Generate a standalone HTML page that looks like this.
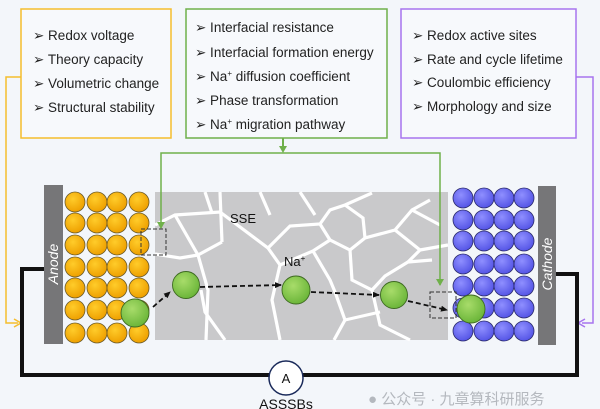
<!DOCTYPE html>
<html><head><meta charset="utf-8"><style>
html,body{margin:0;padding:0;background:#f3f6fa;}
svg{display:block;font-family:"Liberation Sans",sans-serif;}
</style></head><body>
<svg width="600" height="409" viewBox="0 0 600 409" xmlns="http://www.w3.org/2000/svg">
<defs>
<radialGradient id="gold" cx="40%" cy="35%" r="65%"><stop offset="0" stop-color="#ffcc2a"/><stop offset="1" stop-color="#eea000"/></radialGradient>
<radialGradient id="blue" cx="40%" cy="35%" r="65%"><stop offset="0" stop-color="#8f8fff"/><stop offset="1" stop-color="#5555e6"/></radialGradient>
<radialGradient id="grn" cx="40%" cy="35%" r="65%"><stop offset="0" stop-color="#a8dc6a"/><stop offset="1" stop-color="#6cb63a"/></radialGradient>
<marker id="ab" markerWidth="8" markerHeight="8" refX="6" refY="4" orient="auto" markerUnits="userSpaceOnUse"><path d="M0,1 L7,4 L0,7 Z" fill="#111"/></marker>
</defs>
<rect width="600" height="409" fill="#f3f6fa"/>
<rect x="21" y="9" width="150" height="129" fill="#f7f9fc" stroke="#f5bd2d" stroke-width="1.5"/>
<rect x="186" y="9" width="201" height="129" fill="#f7f9fc" stroke="#6fb04a" stroke-width="1.5"/>
<rect x="401" y="9" width="175" height="129" fill="#f7f9fc" stroke="#a774ee" stroke-width="1.5"/>
<g font-size="13.5" fill="#222">
<text x="33" y="40">➢  Redox voltage</text>
<text x="33" y="64">➢  Theory capacity</text>
<text x="33" y="88">➢  Volumetric change</text>
<text x="33" y="112">➢  Structural stability</text>
<text x="195" y="32">➢  Interfacial resistance</text>
<text x="195" y="57">➢  Interfacial formation energy</text>
<text x="195" y="81">➢  Na<tspan font-size="8" dy="-5">+</tspan><tspan dy="5"> diffusion coefficient</tspan></text>
<text x="195" y="105">➢  Phase transformation</text>
<text x="195" y="129">➢  Na<tspan font-size="8" dy="-5">+</tspan><tspan dy="5"> migration pathway</tspan></text>
<text x="412" y="40">➢  Redox active sites</text>
<text x="412" y="64">➢  Rate and cycle lifetime</text>
<text x="412" y="87">➢  Coulombic efficiency</text>
<text x="412" y="111">➢  Morphology and size</text>
</g>
<polyline points="21,77 6,77 6,323 18,323" fill="none" stroke="#f5bd2d" stroke-width="1.5"/>
<path d="M14,319 L21,323 L14,327" fill="none" stroke="#f5bd2d" stroke-width="1.5"/>
<polyline points="576,77 593,77 593,323 582,323" fill="none" stroke="#a774ee" stroke-width="1.5"/>
<path d="M585,319 L578,323 L585,327" fill="none" stroke="#a774ee" stroke-width="1.5"/>
<polyline points="44,269 22,269 22,375 270,375" fill="none" stroke="#111" stroke-width="4"/>
<polyline points="302,375 577,375 577,274 556,274" fill="none" stroke="#111" stroke-width="4"/>
<circle cx="286" cy="378" r="17" fill="#fff" stroke="#1a2a5a" stroke-width="1.5"/>
<text x="286" y="383" font-size="13" text-anchor="middle" fill="#111">A</text>
<text x="286" y="409" font-size="14" text-anchor="middle" fill="#111">ASSSBs</text>
<rect x="155" y="192" width="293" height="148" fill="#c9c9cb"/>
<g fill="none" stroke="#fff" stroke-width="3.2">
<polyline points="155,225 175,215 220,212 268,248 290,226 320,224 330,210 345,205 372,193"/>
<polyline points="220,192 222,242"/>
<polyline points="205,192 212,213"/>
<polyline points="175,215 198,255 222,242"/>
<polyline points="155,254 180,258 198,255 208,290 206,340"/>
<polyline points="201,290 205,312 225,340"/>
<polyline points="268,248 280,265 272,300 280,340"/>
<polyline points="280,265 313,251 330,240 350,250 365,238 395,230 412,210 430,200"/>
<polyline points="320,224 330,240"/>
<polyline points="345,205 363,218 365,238"/>
<polyline points="313,251 330,280 335,292 345,320 334,340"/>
<polyline points="350,250 352,280 372,290 385,276 408,262 432,260"/>
<polyline points="372,290 380,325 410,340"/>
<polyline points="395,230 420,250 408,262"/>
<polyline points="412,210 440,225"/>
<polyline points="420,250 448,245"/>
<polyline points="345,320 380,312"/>
<polyline points="260,192 270,215"/>
<polyline points="300,192 315,215"/>
</g>
<text x="230" y="223" font-size="13" fill="#111">SSE</text>
<text x="284" y="266" font-size="13" fill="#111">Na<tspan font-size="8" dy="-5">+</tspan></text>
<polyline points="161,228 161,153 440,153 440,285" fill="none" stroke="#6fb04a" stroke-width="1.5"/>
<line x1="283" y1="138" x2="283" y2="150" stroke="#6fb04a" stroke-width="2"/>
<path d="M279,146 L283,153 L287,146 Z" fill="#6fb04a"/>
<path d="M157,222 L161,229 L165,222 Z" fill="#6fb04a"/>
<path d="M436,279 L440,286 L444,279 Z" fill="#6fb04a"/>
<rect x="44" y="185" width="19" height="159" fill="#767678"/>
<text transform="translate(58,264) rotate(-90)" font-size="14" font-style="italic" fill="#fff" text-anchor="middle">Anode</text>
<rect x="538" y="186" width="18" height="159" fill="#767678"/>
<text transform="translate(552,264) rotate(-90)" font-size="14" font-style="italic" fill="#fff" text-anchor="middle">Cathode</text>
<g stroke="#6a5a2a" stroke-width="0.8" fill="url(#gold)">
<g id="gc">
<circle cx="75" cy="202" r="10"/><circle cx="97" cy="202" r="10"/><circle cx="117" cy="202" r="10"/><circle cx="139" cy="202" r="10"/>
</g>
<use href="#gc" y="21"/><use href="#gc" y="43"/><use href="#gc" y="65"/><use href="#gc" y="86"/><use href="#gc" y="108"/><use href="#gc" y="131"/>
</g>
<g stroke="#2a2a6a" stroke-width="0.8" fill="url(#blue)">
<g id="bc">
<circle cx="463" cy="198" r="10"/><circle cx="484" cy="198" r="10"/><circle cx="504" cy="198" r="10"/><circle cx="524" cy="198" r="10"/>
</g>
<use href="#bc" y="22"/><use href="#bc" y="43"/><use href="#bc" y="66"/><use href="#bc" y="88"/><use href="#bc" y="110"/><use href="#bc" y="133"/>
</g>
<rect x="141" y="229" width="25" height="26" fill="none" stroke="#333" stroke-width="1" stroke-dasharray="4,2"/>
<rect x="430" y="292" width="26" height="26" fill="none" stroke="#333" stroke-width="1" stroke-dasharray="4,2"/>
<g stroke="#111" stroke-width="1.8" stroke-dasharray="5,3" fill="none" marker-end="url(#ab)">
<line x1="153" y1="307" x2="170" y2="292"/>
<line x1="200" y1="287" x2="281" y2="285"/>
<line x1="311" y1="292" x2="379" y2="295"/>
<line x1="408" y1="301" x2="447" y2="310"/>
</g>
<g stroke="#3d6a20" stroke-width="0.9" fill="url(#grn)">
<circle cx="135" cy="313" r="14"/>
<circle cx="186" cy="285" r="13.5"/>
<circle cx="296" cy="290" r="14"/>
<circle cx="394" cy="295" r="13.5"/>
<circle cx="471" cy="309" r="14"/>
</g>
<text x="368" y="404" font-size="15" fill="#b4b8be">● 公众号 · 九章算科研服务</text>
</svg>
</body></html>
